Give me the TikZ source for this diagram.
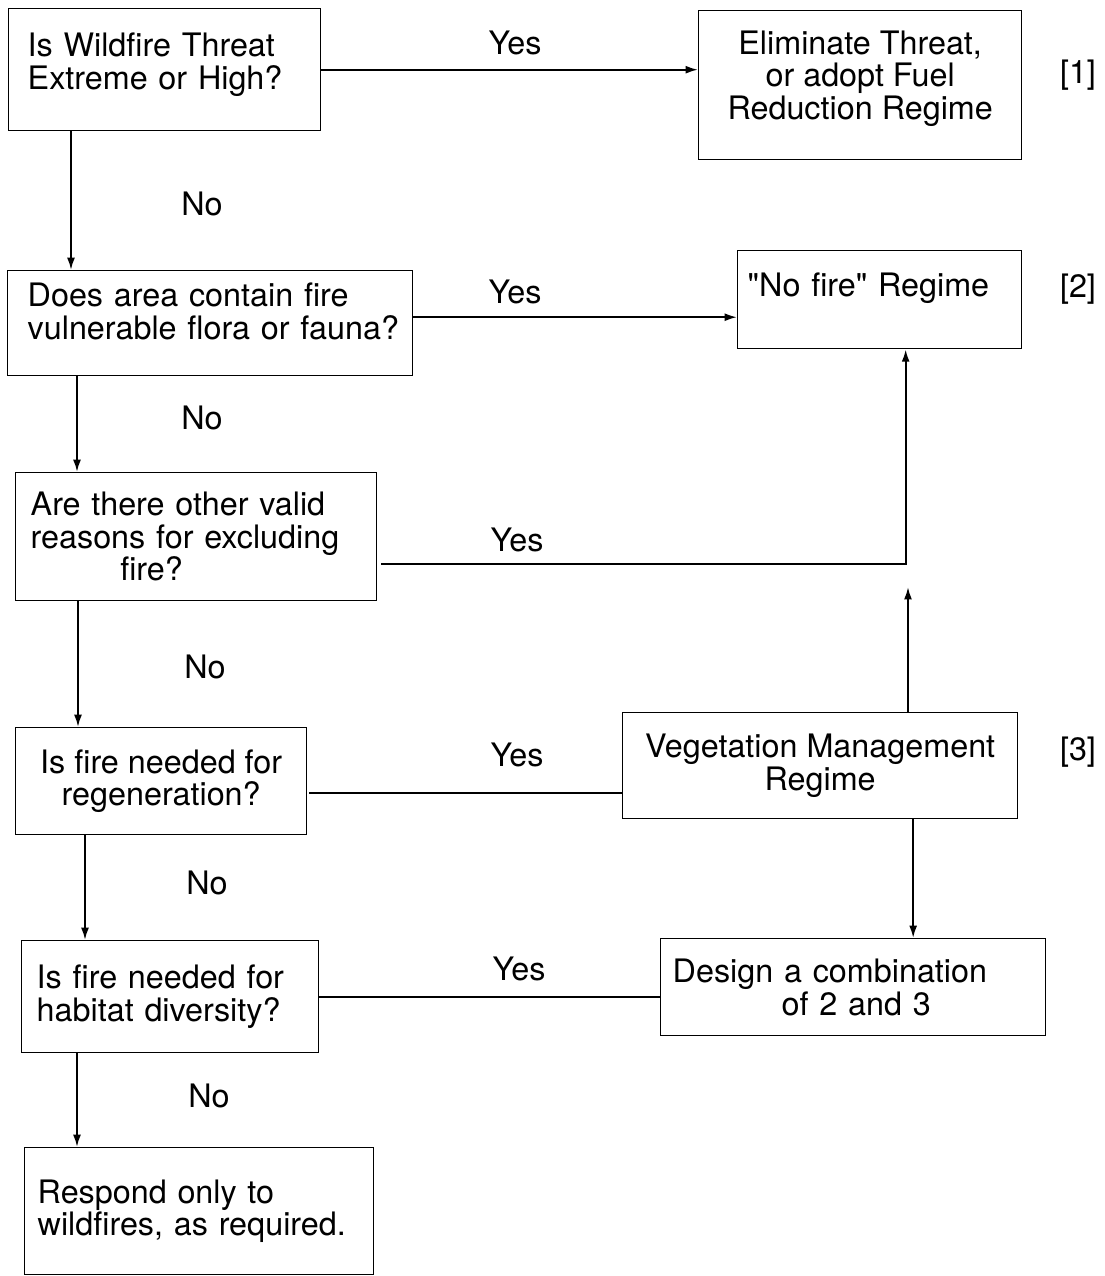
\documentclass[tikz,border=0pt]{standalone}
\usepackage{fontspec}
\newfontfamily\heros{TeX Gyre Heros}
\usetikzlibrary{arrows.meta}
\tikzset{
  box/.style={draw, line width=0.8pt, anchor=north west, inner ysep=0pt},
  arr/.style={line width=1.1pt, -{Latex[length=7pt,width=4.5pt]}},
  conn/.style={line width=1.1pt},
  lbl/.style={inner sep=0pt}
}
\begin{document}
\begin{tikzpicture}[x=0.02cm,y=-0.02cm,font=\heros\fontsize{18.4}{18.6}\selectfont]
\useasboundingbox (0,0) rectangle (1105,1276);
% questions on the left
\node[box,align=left,text width=5.48cm,inner xsep=0.38cm,minimum height=2.44cm] (q1) at (8,8)
  {Is Wildfire Threat\\Extreme or High?\\[-9pt]\mbox{}};
\node[box,align=left,text width=7.3cm,inner xsep=0.4cm,minimum height=2.1cm] (q2) at (7,270)
  {Does area contain fire\\\mbox{vulnerable flora or fauna?}\\[-5pt]\mbox{}};
\node[box,align=left,text width=6.62cm,inner xsep=0.3cm,minimum height=2.56cm] (q3) at (15,472)
  {Are there other valid\\reasons for excluding\\\hspace*{51pt}fire?};
\node[box,align=center,minimum width=5.82cm,minimum height=2.14cm] (q4) at (15,727)
  {Is fire needed for\\regeneration?};
\node[box,align=left,text width=5.34cm,inner xsep=0.3cm,minimum height=2.24cm] (q5) at (21,940)
  {Is fire needed for\\habitat diversity?};
\node[box,align=left,text width=6.46cm,inner xsep=0.26cm,minimum height=2.54cm] (resp) at (24,1147)
  {Respond only to\\wildfires, as required.};
% regimes on the right
\node[box,align=center,minimum width=6.46cm,minimum height=2.98cm] (elim) at (698,10)
  {Eliminate Threat,\\or adopt Fuel\\Reduction Regime\\[-7pt]\mbox{}};
\node[box,align=left,text width=5.28cm,inner xsep=0.2cm,minimum height=1.96cm] (nf) at (737,250)
  {"No fire" Regime\\[-2pt]\mbox{}};
\node[box,align=center,minimum width=7.9cm,minimum height=2.12cm] (vm) at (622,712)
  {Vegetation Management\\Regime};
\node[box,align=left,text width=7.22cm,inner xsep=0.24cm,minimum height=1.94cm] (design) at (660,938)
  {Design a combination\\\hspace*{62pt}of 2 and 3};
% connectors
\draw[arr] (q1.east) -- (q1.east -| elim.west);
\draw[arr] (q1.south west) ++(63,0) coordinate (d1) -- (d1 |- q2.north);
\draw[arr] (q2.east) ++(0,-6) coordinate (r2) -- (r2 -| nf.west);
\draw[arr] (q2.south west) ++(70,0) coordinate (d2) -- (d2 |- q3.north);
\draw[arr] (q3.east) ++(4,27) coordinate (r3) -| ([shift={(26,0)}]nf.south);
\draw[arr] (q3.south west) ++(63,0) coordinate (d3) -- (d3 |- q4.north);
\coordinate (up) at (908,587);
\draw[arr] (vm.north -| up) -- (up);
\draw[conn] (q4.east) ++(2,12) coordinate (r4) -- (r4 -| vm.west);
\draw[arr] (vm.south) ++(93,0) coordinate (d5) -- (d5 |- design.north);
\draw[arr] (q4.south west) ++(70,0) coordinate (d4) -- (d4 |- q5.north);
\draw[conn] (q5.east) -- (q5.east -| design.west);
\draw[arr] (q5.south west) ++(56,0) coordinate (d6) -- (d6 |- resp.north);
% labels
\foreach \n/\x/\y in {1/515/43,2/515/292,3/517/540,4/517/755,5/519/969}
  \node[lbl] (yes\n) at (\x,\y) {Yes};
\foreach \n/\x/\y in {1/202/204,2/202/418,3/205/667,4/207/883,5/209/1096}
  \node[lbl] (no\n) at (\x,\y) {No};
\foreach \n/\y in {1/75,2/289,3/752}
  \node[lbl] (ref\n) at (1078,\y) {[\n]};
\end{tikzpicture}
\end{document}
